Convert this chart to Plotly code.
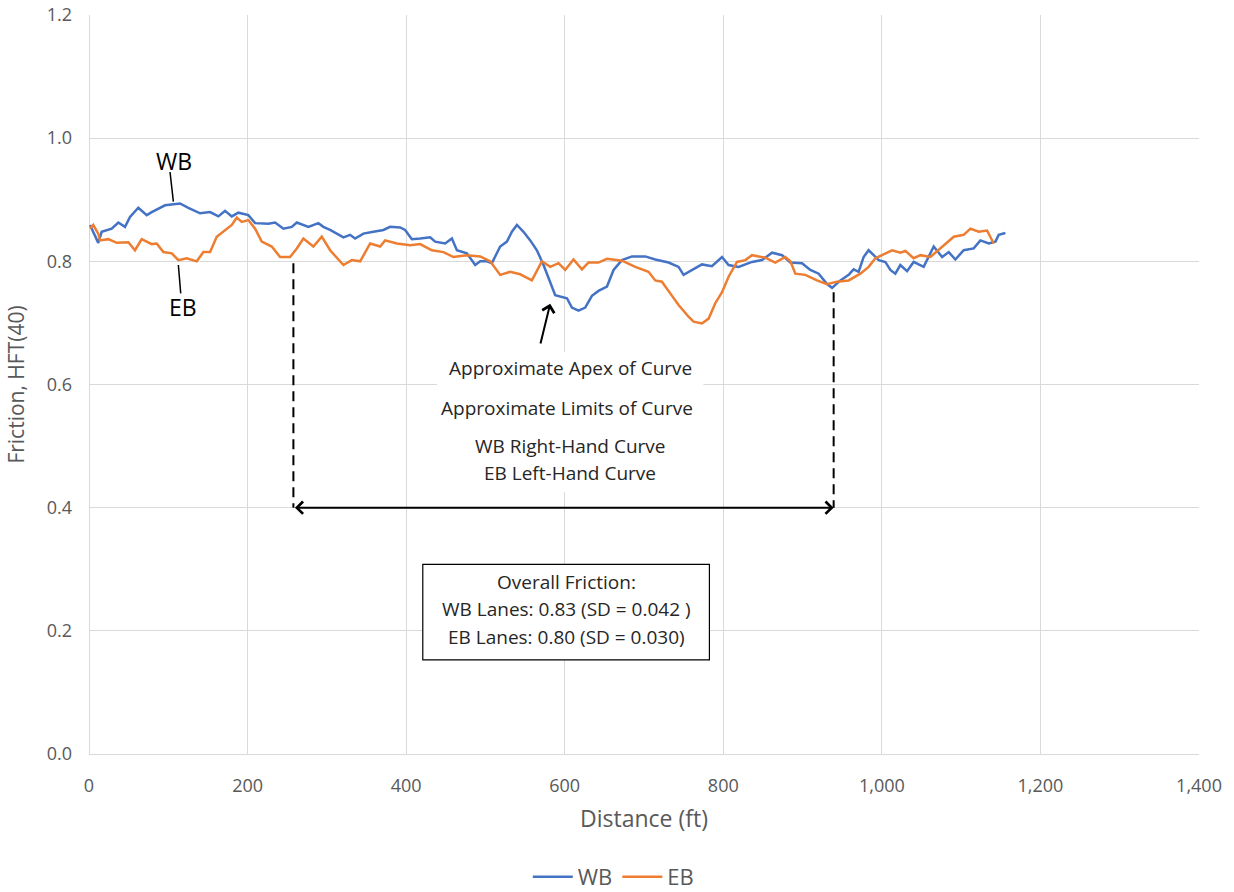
import plotly.graph_objects as go

# Westbound lane friction profile (distance in ft, friction HFT(40))
wb_dist = [1.3, 11.7, 16.0, 28.6, 37.0, 45.4, 51.7, 62.2, 72.8, 79.1, 95.9, 114.8, 125.3, 140.1,
           152.7, 163.2, 171.6, 180.1, 188.4, 201.0, 209.5, 226.2, 234.7, 245.2, 255.8, 262.1,
           276.7, 289.3, 295.6, 304.1, 320.9, 329.3, 335.6, 346.1, 358.7, 371.4, 379.8, 392.4,
           398.7, 407.2, 417.7, 430.3, 436.6, 449.2, 457.7, 464.0, 476.6, 487.1, 493.4, 501.8,
           508.1, 518.6, 527.1, 533.4, 539.7, 548.0, 556.5, 564.9, 573.3, 581.7, 588.0, 602.8,
           609.1, 617.4, 625.9, 634.3, 642.6, 653.3, 661.6, 672.2, 684.8, 701.6, 714.2, 731.0,
           743.6, 749.9, 760.5, 773.1, 785.7, 798.4, 806.7, 819.3, 836.2, 848.8, 861.5, 874.1,
           884.6, 899.3, 909.8, 920.3, 930.9, 937.2, 947.7, 958.1, 964.4, 970.7, 977.0, 983.3,
           989.7, 996.0, 1004.4, 1010.7, 1017.0, 1023.3, 1031.8, 1040.1, 1052.7, 1065.4, 1076.0,
           1084.3, 1092.7, 1103.2, 1115.8, 1124.3, 1134.8, 1143.2, 1147.4, 1155.8]
wb_fric = [0.859, 0.830, 0.848, 0.853, 0.863, 0.856, 0.872, 0.887, 0.875, 0.880, 0.891, 0.894,
           0.887, 0.878, 0.880, 0.873, 0.882, 0.873, 0.879, 0.875, 0.862, 0.861, 0.863, 0.853,
           0.856, 0.863, 0.856, 0.862, 0.856, 0.851, 0.839, 0.843, 0.837, 0.845, 0.848, 0.851,
           0.856, 0.855, 0.851, 0.836, 0.837, 0.839, 0.832, 0.829, 0.837, 0.818, 0.813, 0.794,
           0.800, 0.800, 0.797, 0.824, 0.832, 0.848, 0.859, 0.848, 0.834, 0.818, 0.794, 0.764,
           0.745, 0.740, 0.725, 0.720, 0.725, 0.744, 0.752, 0.759, 0.786, 0.802, 0.808, 0.808,
           0.803, 0.798, 0.791, 0.778, 0.786, 0.795, 0.792, 0.807, 0.794, 0.791, 0.799, 0.802,
           0.814, 0.810, 0.798, 0.797, 0.786, 0.780, 0.763, 0.757, 0.769, 0.778, 0.787, 0.783,
           0.807, 0.818, 0.810, 0.802, 0.799, 0.786, 0.780, 0.794, 0.784, 0.799, 0.791, 0.824,
           0.807, 0.815, 0.803, 0.818, 0.821, 0.834, 0.829, 0.832, 0.843, 0.846]

# Eastbound lane friction profile
eb_dist = [1.3, 5.4, 11.7, 13.9, 24.4, 35.0, 49.6, 58.0, 66.5, 79.1, 85.4, 93.8, 104.4, 112.7,
           123.3, 135.9, 144.2, 152.7, 161.1, 171.6, 180.1, 186.4, 192.7, 201.0, 209.5, 217.9,
           230.5, 241.0, 253.6, 262.1, 270.4, 283.0, 293.6, 304.1, 320.9, 331.5, 342.0, 354.6,
           367.2, 373.5, 388.3, 405.0, 417.7, 432.4, 447.1, 459.7, 476.6, 493.4, 506.0, 518.6,
           531.2, 543.8, 558.6, 571.2, 581.7, 592.2, 600.6, 611.1, 621.7, 630.0, 642.6, 653.3,
           672.2, 689.0, 705.7, 714.2, 722.6, 733.1, 743.6, 756.2, 762.5, 773.1, 781.5, 789.9,
           798.4, 806.7, 817.3, 827.8, 836.2, 853.0, 865.6, 878.2, 884.6, 890.9, 903.5, 918.2,
           930.9, 943.5, 958.1, 972.9, 983.3, 991.8, 1004.4, 1012.9, 1023.3, 1029.7, 1040.1,
           1048.6, 1061.2, 1071.7, 1082.3, 1090.7, 1103.2, 1111.7, 1122.1, 1132.7, 1141.1]
eb_fric = [0.853, 0.859, 0.845, 0.834, 0.836, 0.830, 0.831, 0.818, 0.836, 0.828, 0.829, 0.815,
           0.813, 0.802, 0.805, 0.800, 0.815, 0.815, 0.840, 0.851, 0.859, 0.871, 0.864, 0.867,
           0.853, 0.832, 0.824, 0.807, 0.807, 0.821, 0.837, 0.824, 0.840, 0.818, 0.794, 0.802,
           0.800, 0.829, 0.824, 0.834, 0.829, 0.826, 0.828, 0.818, 0.815, 0.807, 0.810, 0.808,
           0.800, 0.778, 0.783, 0.779, 0.769, 0.800, 0.791, 0.797, 0.786, 0.803, 0.787, 0.798,
           0.798, 0.804, 0.801, 0.791, 0.783, 0.769, 0.767, 0.748, 0.729, 0.710, 0.702, 0.699,
           0.707, 0.732, 0.750, 0.775, 0.799, 0.802, 0.810, 0.806, 0.798, 0.807, 0.800, 0.780,
           0.778, 0.769, 0.763, 0.767, 0.769, 0.780, 0.791, 0.805, 0.813, 0.818, 0.814, 0.817,
           0.805, 0.810, 0.807, 0.819, 0.832, 0.840, 0.843, 0.853, 0.848, 0.850, 0.829]

x_ticks = [0, 200, 400, 600, 800, 1000, 1200, 1400]
y_ticks = [0.0, 0.2, 0.4, 0.6, 0.8, 1.0, 1.2]

# Curve limits / apex and summary statistics
curve_start, curve_end = 257.8, 939.2
limit_level = 0.40
wb_mean, wb_sd = 0.83, 0.042
eb_mean, eb_sd = 0.80, 0.030

BLUE = "#4472C4"
ORANGE = "#ED7D31"
GRID = "#D9D9D9"
TXT = "#595959"
FONT = "Open Sans"

fig = go.Figure()
fig.add_trace(go.Scatter(x=wb_dist, y=wb_fric, mode="lines", name="WB",
                         line=dict(color=BLUE, width=2.5)))
fig.add_trace(go.Scatter(x=eb_dist, y=eb_fric, mode="lines", name="EB",
                         line=dict(color=ORANGE, width=2.5)))

shapes = [
    # white backing behind the curve notes (hides gridlines)
    dict(type="rect", x0=439, x1=775, y0=0.425, y1=0.653, fillcolor="white",
         line=dict(width=0), layer="between"),
    # summary box
    dict(type="rect", x0=421, x1=782.5, y0=0.153, y1=0.308, fillcolor="white",
         line=dict(color="#000000", width=1.2), layer="above"),
    # curve limit markers
    dict(type="line", x0=curve_start, x1=curve_start, y0=0.797, y1=limit_level,
         line=dict(color="black", width=2, dash="10px,6px")),
    dict(type="line", x0=curve_end, x1=curve_end, y0=0.750, y1=limit_level,
         line=dict(color="black", width=2, dash="10px,6px")),
    # series label leaders
    dict(type="line", x0=102.2, x1=106.4, y0=0.945, y1=0.897, line=dict(color="black", width=1.5)),
    dict(type="line", x0=112.7, x1=115.7, y0=0.794, y1=0.748, line=dict(color="black", width=1.5)),
]

note_font = dict(family=FONT, size=19, color="#262626")
annotations = [
    dict(x=107.7, y=0.963, text="WB", showarrow=False, font=dict(family=FONT, size=23, color="black")),
    dict(x=119, y=0.726, text="EB", showarrow=False, font=dict(family=FONT, size=23, color="black")),
    # apex arrow
    dict(x=581.7, y=0.731, ax=569, ay=0.664, axref="x", ayref="y", text="", showarrow=True,
         arrowhead=4, arrowsize=1.2, arrowwidth=2, arrowcolor="black"),
    # double-headed arrow spanning the curve
    dict(x=curve_end, y=limit_level, ax=curve_start, ay=limit_level, axref="x", ayref="y",
         text="", showarrow=True, arrowhead=4, startarrowhead=4, arrowside="end+start",
         arrowsize=1.2, startarrowsize=1.2, arrowwidth=2, arrowcolor="black"),
    dict(x=607, y=0.627, text="Approximate Apex of Curve", showarrow=False, font=note_font),
    dict(x=603, y=0.562, text="Approximate Limits of Curve", showarrow=False, font=note_font),
    dict(x=607, y=0.500, text="WB Right-Hand Curve", showarrow=False, font=note_font),
    dict(x=607, y=0.456, text="EB Left-Hand Curve", showarrow=False, font=note_font),
    dict(x=601.9, y=0.279, text="Overall Friction:", showarrow=False, font=note_font),
    dict(x=601.9, y=0.235, text=f"WB Lanes: {wb_mean:.2f} (SD = {wb_sd:.3f} )", showarrow=False, font=note_font),
    dict(x=601.9, y=0.190, text=f"EB Lanes: {eb_mean:.2f} (SD = {eb_sd:.3f})", showarrow=False, font=note_font),
]

fig.update_layout(
    width=1234, height=892,
    margin=dict(l=89, r=35, t=15, b=138, autoexpand=False),
    paper_bgcolor="white", plot_bgcolor="white",
    font=dict(family=FONT, color=TXT),
    shapes=shapes, annotations=annotations,
    showlegend=True,
    legend=dict(orientation="h", xref="container", yref="container", x=0.497, xanchor="center",
                y=0.017, yanchor="middle", font=dict(family=FONT, size=22, color=TXT),
                itemwidth=40),
)
fig.update_xaxes(range=[0, 1400], tickvals=x_ticks, tickformat=",d", showgrid=True,
                 gridcolor=GRID, gridwidth=1, zeroline=True, zerolinecolor=GRID, zerolinewidth=1,
                 showline=False, ticks="", tickfont=dict(family=FONT, size=18, color=TXT),
                 ticklabelstandoff=19, automargin=False,
                 title=dict(text="Distance (ft)", font=dict(family=FONT, size=23, color=TXT), standoff=14))
fig.update_yaxes(range=[0, 1.2], tickvals=y_ticks, tickformat=".1f", showgrid=True,
                 gridcolor=GRID, gridwidth=1, zeroline=True, zerolinecolor=GRID, zerolinewidth=1,
                 showline=False, ticks="", tickfont=dict(family=FONT, size=18, color=TXT),
                 ticklabelstandoff=16, automargin=False,
                 title=dict(text="Friction, HFT(40)", font=dict(family=FONT, size=21, color=TXT), standoff=16))

fig.write_html("out.html")
